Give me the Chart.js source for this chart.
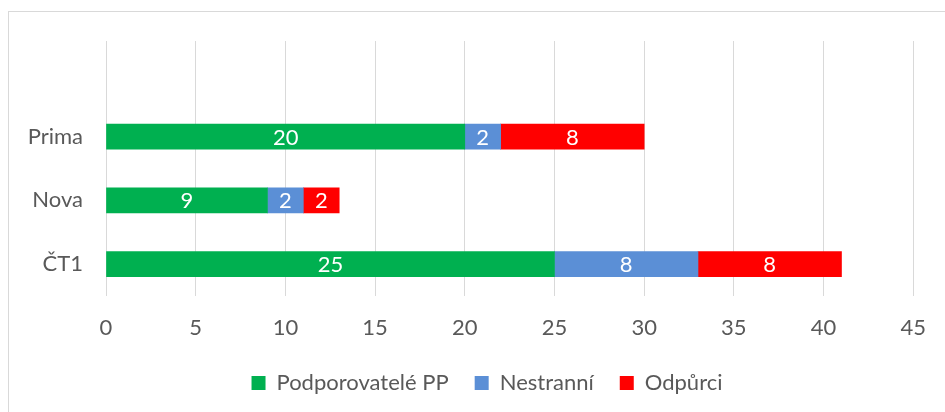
<!DOCTYPE html>
<html>
<head>
<meta charset="utf-8">
<script src="https://cdn.jsdelivr.net/npm/chart.js@4"></script>
<style>
  html, body { margin: 0; padding: 0; background: #fff; overflow: hidden; }
  #wrap { position: relative; width: 945px; height: 412px; }
  #frame { position: absolute; left: 8px; top: 11px; width: 960px; height: 420px; border: 1px solid #d9d9d9; box-sizing: border-box; }
  canvas { position: absolute; left: 0; top: 0; }
</style>
</head>
<body>
<div id="wrap">
  <div id="frame"></div>
  <canvas id="chart" width="945" height="412"></canvas>
</div>
<script>
const categories = ["", "Prima", "Nova", "ČT1"];
const supporters = [null, 20, 9, 25];
const neutral = [null, 2, 2, 8];
const opponents = [null, 8, 2, 8];
const xTicks = [0, 5, 10, 15, 20, 25, 30, 35, 40, 45];

const fontFamily = "Lato, 'Open Sans', sans-serif";
const fontSize = 22;

// draw the value in the middle of each bar segment
const barValues = {
  id: "barValues",
  afterDatasetsDraw(chart) {
    const ctx = chart.ctx;
    ctx.save();
    ctx.fillStyle = "#ffffff";
    ctx.font = fontSize + "px " + fontFamily;
    ctx.textAlign = "center";
    ctx.textBaseline = "middle";
    chart.data.datasets.forEach((ds, i) => {
      chart.getDatasetMeta(i).data.forEach((bar, j) => {
        const v = ds.data[j];
        if (v == null) return;
        const cx = (bar.x + bar.base) / 2;
        ctx.fillText(String(v), cx, bar.y + 1);
      });
    });
    ctx.restore();
  }
};

// the legend sits a bit right of the canvas centre in the original
const legendShift = {
  id: "legendShift",
  afterLayout(chart) {
    chart.legend.left += 28;
    chart.legend.right += 28;
  }
};

const ctx = document.getElementById("chart").getContext("2d");
new Chart(ctx, {
  type: "bar",
  data: {
    labels: categories,
    datasets: [
      { label: "Podporovatelé PP", data: supporters, backgroundColor: "#00b050" },
      { label: "Nestranní", data: neutral, backgroundColor: "#5b8fd6" },
      { label: "Odpůrci", data: opponents, backgroundColor: "#ff0000" }
    ]
  },
  options: {
    indexAxis: "y",
    responsive: false,
    animation: false,
    layout: { padding: { top: 41, right: 27, left: 0, bottom: 8 } },
    datasets: { bar: { barThickness: 25 } },
    scales: {
      x: {
        stacked: true,
        min: 0,
        max: 45,
        afterBuildTicks(axis) { axis.ticks = xTicks.map(v => ({ value: v })); },
        grid: { color: "#d9d9d9", drawTicks: false, lineWidth: 1 },
        border: { display: false },
        ticks: { color: "#595959", font: { size: fontSize, family: fontFamily }, padding: 19 },
        afterFit(axis) { axis.height = 50; }
      },
      y: {
        stacked: true,
        grid: { display: false },
        border: { display: false },
        ticks: { color: "#595959", font: { size: fontSize, family: fontFamily }, padding: 15 },
        afterFit(axis) { axis.width = 106; }
      }
    },
    plugins: {
      legend: {
        position: "bottom",
        labels: {
          color: "#595959",
          font: { size: fontSize, family: fontFamily },
          boxWidth: 14,
          boxHeight: 14,
          padding: 26
        }
      },
      tooltip: { enabled: false }
    }
  },
  plugins: [barValues, legendShift]
});
</script>
</body>
</html>
